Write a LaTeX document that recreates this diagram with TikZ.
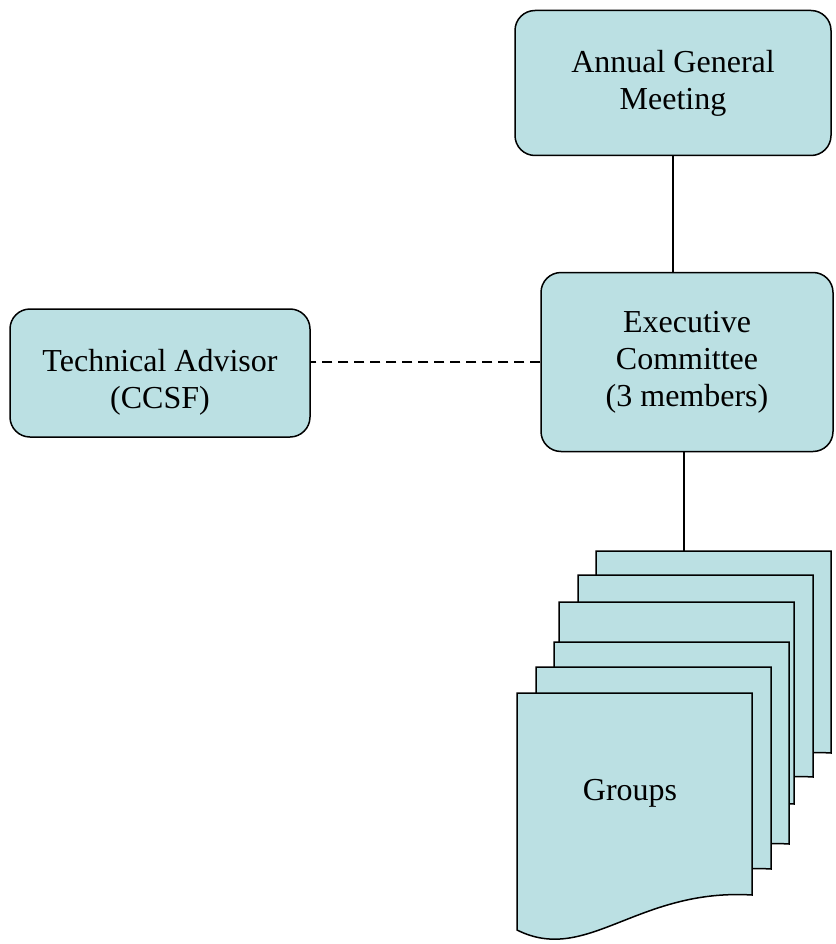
\documentclass[tikz,border=0pt]{standalone}
\usepackage{fontspec}
\setmainfont{Liberation Serif}
\definecolor{boxblue}{RGB}{187,224,227}

\begin{document}
\begin{tikzpicture}[x=1pt, y=-1pt,
    every node/.style={font=\fontsize{32}{37}\selectfont},
    box/.style={draw, rounded corners=20pt, fill=boxblue, line width=1.5pt, align=center, inner sep=0pt},
    page/.style={draw, fill=boxblue, line width=1.5pt},
    link/.style={line width=1.2pt}]
    \useasboundingbox (0,0) rectangle (835,944);

    % Nodes
    \node (agm) [box, minimum width=316pt, minimum height=145pt] at (673,83) {Annual General\\Meeting};
    \node (exec) [box, minimum width=292pt, minimum height=179pt] at (687,362) {Executive\\Committee\\(3 members)};
    \node (tech) [box, minimum width=300pt, minimum height=128pt,
        label={[align=center, yshift=-9pt]center:Technical Advisor\\(CCSF)}] at (160,373) {};

    % Groups, pages from back to front
    \foreach \px/\py in {596/551, 578/575, 559/602, 554/642, 536/667, 517/693} {
        \begin{scope}[shift={(\px,\py)}]
            \draw[page] (0,0) -- (235,0) -- (235,202) .. controls (120,195) and (70,272) .. (0,237) -- cycle;
        \end{scope}
    }
    \node (groups) at (630,793) {Groups};
    \coordinate (grouptop) at (684,551);

    % Lines
    \draw[link] (agm) -- (agm |- exec.north);
    \draw[link, dash pattern=on 10pt off 6pt] (exec.west) -- (exec.west -| tech.east);
    \draw[link] (exec.south -| grouptop) -- (grouptop);
\end{tikzpicture}
\end{document}
